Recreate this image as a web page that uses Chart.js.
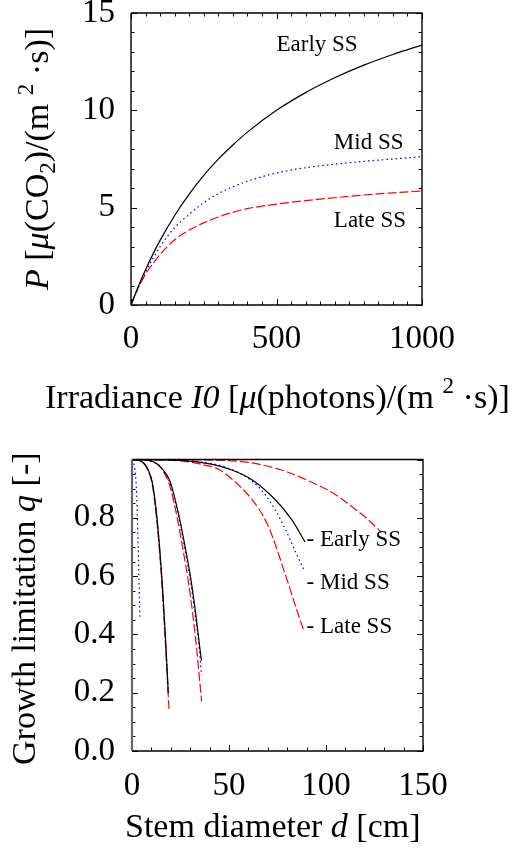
<!DOCTYPE html>
<html><head><meta charset="utf-8">
<script src="https://cdn.jsdelivr.net/npm/chart.js@4.4.1/dist/chart.umd.min.js"></script>
<style>
html,body{margin:0;padding:0;background:#fff;}
#wrap{position:relative;width:526px;height:856px;overflow:hidden;}
.box{position:absolute;left:0;width:526px;}
</style></head><body>
<div id="wrap">
<div class="box" style="top:0;height:440px"><canvas id="c1" width="526" height="440"></canvas></div>
<div class="box" style="top:440px;height:416px"><canvas id="c2" width="526" height="416"></canvas></div>
</div>
<script>
// ---------- DATA ----------
const seriesNames = ['Early SS', 'Mid SS', 'Late SS'];

// Top panel: photosynthesis P vs irradiance I0
const irradiance = [0, 25, 50, 75, 100, 150, 200, 250, 300, 350, 400, 500, 600, 700, 800, 900, 1000];
const pEarly = [0, 0.95, 1.81, 2.6, 3.32, 4.6, 5.7, 6.66, 7.49, 8.22, 8.88, 10.0, 10.91, 11.67, 12.32, 12.87, 13.35];
const pMid   = [0, 0.9, 1.7, 2.38, 3.0, 3.97, 4.66, 5.26, 5.72, 6.07, 6.36, 6.78, 7.05, 7.23, 7.38, 7.5, 7.62];
const pLate  = [0, 0.88, 1.58, 2.12, 2.6, 3.35, 3.85, 4.22, 4.52, 4.76, 4.95, 5.18, 5.36, 5.51, 5.65, 5.76, 5.86];
const xTicksTop = [0, 500, 1000];
const yTicksTop = [0, 5, 10, 15];

// Bottom panel: growth limitation q vs stem diameter d
const earlyA_d = [0, 3, 6, 8.4, 10.5, 12.4, 14.1, 15.4, 16.5, 17.5, 18.7];
const earlyA_q = [1, 0.998, 0.988, 0.964, 0.92, 0.83, 0.71, 0.595, 0.475, 0.36, 0.20];
const midA_d   = [0, 3, 6, 8.4, 10.5, 12.4, 14.1, 15.4, 16.5, 17.5, 18.8];
const midA_q   = [1, 0.998, 0.988, 0.963, 0.918, 0.825, 0.705, 0.59, 0.47, 0.35, 0.19];
const lateA_d  = [0, 3, 6, 8.3, 10.4, 12.3, 14.0, 15.3, 16.4, 17.4, 18.6, 19.1];
const lateA_q  = [1, 0.998, 0.987, 0.962, 0.915, 0.82, 0.70, 0.585, 0.465, 0.345, 0.20, 0.14];

const earlyB_d = [0, 8, 13, 16.1, 19.6, 23.9, 27.4, 30.4, 32.8, 34.9, 35.8];
const earlyB_q = [1, 0.998, 0.985, 0.964, 0.925, 0.816, 0.70, 0.587, 0.473, 0.357, 0.31];
const midB_d   = [0, 8, 13, 16.0, 19.4, 23.7, 27.2, 30.2, 32.6, 34.7, 35.8];
const midB_q   = [1, 0.998, 0.985, 0.963, 0.922, 0.812, 0.695, 0.58, 0.465, 0.35, 0.26];
const lateB_d  = [0, 8, 13, 15.8, 19.0, 23.0, 26.3, 29.2, 31.5, 33.4, 34.9, 35.9];
const lateB_q  = [1, 0.998, 0.984, 0.962, 0.92, 0.81, 0.69, 0.575, 0.46, 0.345, 0.24, 0.17];

const earlyC_d = [0, 25, 40, 51.5, 62, 74, 82.5, 89.2];
const earlyC_q = [1, 0.997, 0.985, 0.964, 0.93, 0.861, 0.792, 0.717];
const midC_d   = [0, 30, 45, 55, 62, 68, 74, 79.5, 84.5, 88.7];
const midC_q   = [1, 0.995, 0.98, 0.955, 0.925, 0.885, 0.825, 0.755, 0.68, 0.62];
const lateC_d  = [0, 25, 38, 45.4, 52, 59, 65, 70, 73.8, 77.3, 80.8, 84.6, 88.7];
const lateC_q  = [1, 0.995, 0.98, 0.964, 0.93, 0.885, 0.834, 0.775, 0.71, 0.64, 0.57, 0.49, 0.41];

const midShort_d = [0, 0.8, 1.5, 2.1, 2.6, 3.1, 3.6, 4.1];
const midShort_q = [1, 0.99, 0.964, 0.92, 0.84, 0.72, 0.59, 0.45];
const lateFar_d  = [0, 40, 60, 77, 90, 103.8, 114, 121, 128.5];
const lateFar_q  = [1, 0.998, 0.99, 0.964, 0.93, 0.884, 0.835, 0.798, 0.75];

const xTicksBot = [0, 50, 100, 150];
const yTicksBot = [0, 0.2, 0.4, 0.6, 0.8];

// ---------- STYLE ----------
const SERIF = '"Liberation Serif", "Times New Roman", serif';
const BLACK = '#000000', BLUE = '#0000ff', RED = '#ff0000';
const styleOf = {
  early: {borderColor: BLACK, borderDash: []},
  mid:   {borderColor: BLUE,  borderDash: [1.6, 3.0]},
  late:  {borderColor: RED,   borderDash: [9, 3]}
};
function pts(xs, ys) { return xs.map((v, i) => ({x: v, y: ys[i]})); }
function ds(kind, xs, ys) {
  return Object.assign({data: pts(xs, ys), borderWidth: 1.2, pointRadius: 0,
    fill: false, cubicInterpolationMode: 'monotone'}, styleOf[kind]);
}

function richText(ctx, segs, x, y, size, rot) {
  ctx.save();
  ctx.translate(x, y);
  if (rot) ctx.rotate(-Math.PI / 2);
  ctx.textBaseline = 'alphabetic';
  ctx.textAlign = 'left';
  ctx.fillStyle = '#000';
  let cx = 0;
  for (const s of segs) {
    const small = s.sub || s.sup;
    const fs = small ? size * 0.68 : size;
    ctx.font = (s.i ? 'italic ' : '') + fs + 'px ' + SERIF;
    const dy = s.sub ? size * 0.22 : (s.sup ? -size * 0.45 : 0);
    ctx.fillText(s.t, cx, dy);
    cx += ctx.measureText(s.t).width;
  }
  ctx.restore();
}

const deco = {
  id: 'deco',
  afterDraw(chart, args, o) {
    const {ctx, chartArea: a, scales: {x, y}} = chart;
    ctx.save();
    ctx.strokeStyle = '#000';
    ctx.lineWidth = 1;
    const drawX = (vals, len) => {
      for (const v of vals) {
        const px = Math.round(x.getPixelForValue(v)) + 0.5;
        ctx.beginPath();
        ctx.moveTo(px, a.bottom); ctx.lineTo(px, a.bottom - len);
        if (o.topTicks) { ctx.moveTo(px, a.top); ctx.lineTo(px, a.top + len); }
        ctx.stroke();
      }
    };
    const drawY = (vals, len) => {
      for (const v of vals) {
        const py = Math.round(y.getPixelForValue(v)) + 0.5;
        ctx.beginPath();
        ctx.moveTo(a.left, py); ctx.lineTo(a.left + len, py);
        ctx.moveTo(a.right, py); ctx.lineTo(a.right - len, py);
        ctx.stroke();
      }
    };
    const range = (lo, hi, st) => { const r = []; for (let v = lo; v <= hi + 1e-9; v += st) r.push(+v.toFixed(6)); return r; };
    drawX(range(x.min, x.max, o.xMinor), 3.5);
    drawX(range(x.min, x.max, o.xMajor), 6);
    drawY(range(y.min, y.max, o.yMinor), 3.5);
    drawY(range(y.min, y.max, o.yMajor), 6);
    // frame
    ctx.lineWidth = 1.4;
    ctx.strokeStyle = '#000';
    ctx.beginPath();
    ctx.moveTo(a.left, a.top); ctx.lineTo(a.right, a.top); ctx.lineTo(a.right, a.bottom); ctx.lineTo(a.left, a.bottom);
    ctx.stroke();
    ctx.strokeStyle = o.leftColor || '#000';
    ctx.lineWidth = o.leftWidth || 1.4;
    ctx.beginPath(); ctx.moveTo(a.left, a.top); ctx.lineTo(a.left, a.bottom); ctx.stroke();
    // annotations
    ctx.fillStyle = '#000';
    ctx.font = o.annSize + 'px ' + SERIF;
    ctx.textBaseline = 'middle';
    ctx.textAlign = 'left';
    for (const an of o.ann) {
      ctx.fillText(an.text, x.getPixelForValue(an.x), y.getPixelForValue(an.y));
    }
    // titles
    for (const t of o.titles) richText(ctx, t.segs, t.x, t.y, t.size, t.rot);
    ctx.restore();
  }
};

function axis(min, max, step, width, height, pad, fmt) {
  const s = {type: 'linear', min, max,
    grid: {display: false, drawTicks: false}, border: {display: false},
    ticks: {stepSize: step, color: '#000', font: {family: SERIF, size: 33}, padding: pad,
      maxRotation: 0, autoSkip: false, callback: fmt || (v => String(v))}};
  s.afterFit = sc => {
    if (width) sc.width = width;
    if (height) sc.height = height;
    sc.paddingTop = 0; sc.paddingBottom = 0; sc.paddingLeft = 0; sc.paddingRight = 0;
  };
  return s;
}

// ---------- TOP CHART ----------
new Chart(document.getElementById('c1'), {
  type: 'line',
  data: {datasets: [
    ds('early', irradiance, pEarly),
    ds('mid', irradiance, pMid),
    ds('late', irradiance, pLate)
  ]},
  options: {
    responsive: false, animation: false, devicePixelRatio: 1,
    layout: {padding: {top: 13, right: 104, left: 0, bottom: 0}},
    plugins: {legend: {display: false}, tooltip: {enabled: false},
      deco: {topTicks: true, xMinor: 50, xMajor: 500, yMinor: 1, yMajor: 5, annSize: 23,
        ann: [
          {text: seriesNames[0], x: 500, y: 13.35},
          {text: seriesNames[1], x: 697, y: 8.34},
          {text: seriesNames[2], x: 697, y: 4.33}
        ],
        titles: [
          {rot: true, x: 48, y: 290, size: 34, segs: [
            {t: 'P', i: true}, {t: ' ['}, {t: 'μ', i: true}, {t: '(CO'}, {t: '2', sub: true},
            {t: ')/(m '}, {t: '2', sup: true}, {t: ' ·s)]'}]},
          {rot: false, x: 45, y: 408, size: 34, segs: [
            {t: 'Irradiance '}, {t: 'I', i: true}, {t: '0', i: true}, {t: ' ['}, {t: 'μ', i: true},
            {t: '(photons)/(m '}, {t: '2', sup: true}, {t: ' ·s)]'}]}
        ]}
    },
    scales: {
      x: axis(0, 1000, 500, null, 135, 15),
      y: axis(0, 15, 5, 131, null, 16)
    }
  },
  plugins: [deco]
});

// ---------- BOTTOM CHART ----------
new Chart(document.getElementById('c2'), {
  type: 'line',
  data: {datasets: [
    ds('early', earlyA_d, earlyA_q), ds('mid', midA_d, midA_q), ds('late', lateA_d, lateA_q),
    ds('early', earlyB_d, earlyB_q), ds('mid', midB_d, midB_q), ds('late', lateB_d, lateB_q),
    ds('early', earlyC_d, earlyC_q), ds('mid', midC_d, midC_q), ds('late', lateC_d, lateC_q),
    ds('mid', midShort_d, midShort_q), ds('late', lateFar_d, lateFar_q)
  ]},
  options: {
    responsive: false, animation: false, devicePixelRatio: 1,
    layout: {padding: {top: 19.5, right: 103, left: 0, bottom: 0}},
    plugins: {legend: {display: false}, tooltip: {enabled: false},
      deco: {topTicks: false, xMinor: 10, xMajor: 50, yMinor: 0.05, yMajor: 0.2, annSize: 23,
        leftColor: '#666', leftWidth: 2.2,
        ann: [
          {text: '- ' + seriesNames[0], x: 90, y: 0.724},
          {text: '- ' + seriesNames[1], x: 90, y: 0.576},
          {text: '- ' + seriesNames[2], x: 90, y: 0.426}
        ],
        titles: [
          {rot: true, x: 35, y: 325, size: 34, segs: [
            {t: 'Growth limitation '}, {t: 'q', i: true}, {t: ' [-]'}]},
          {rot: false, x: 125, y: 396.7, size: 34, segs: [
            {t: 'Stem diameter '}, {t: 'd', i: true}, {t: ' [cm]'}]}
        ]}
    },
    scales: {
      x: axis(0, 150, 50, null, 105, 16),
      y: axis(0, 1, 0.2, 132, null, 17, v => (v > 0.99 ? '' : v.toFixed(1)))
    }
  },
  plugins: [deco]
});
</script>
</body></html>
